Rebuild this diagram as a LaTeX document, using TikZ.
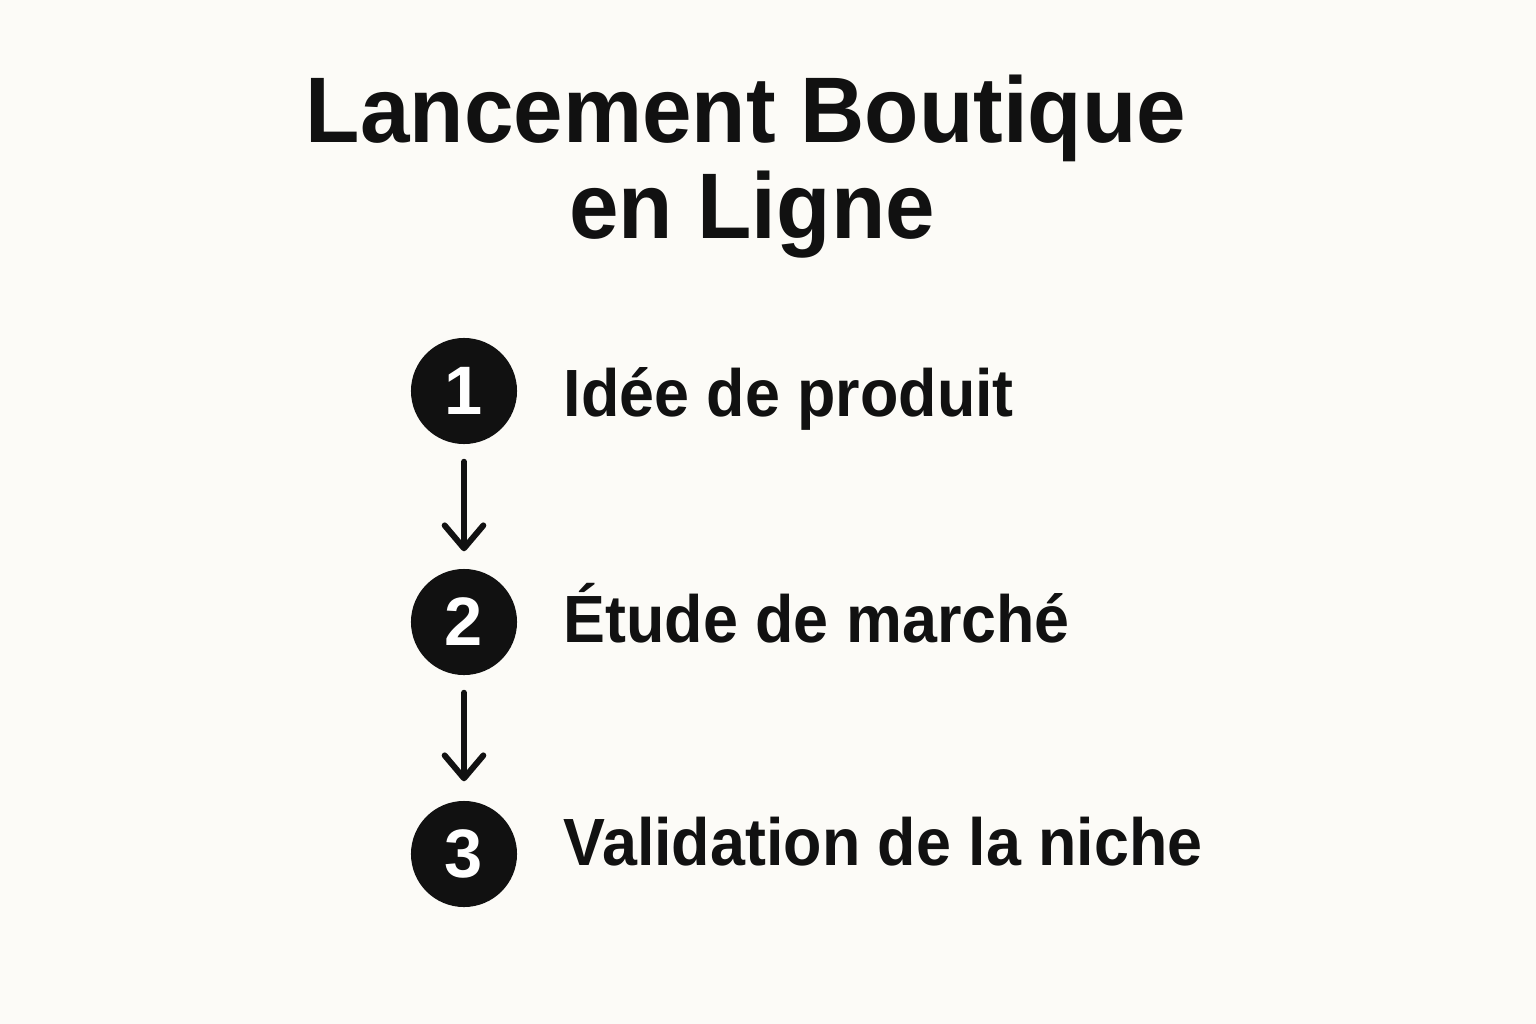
\documentclass[tikz,border=0pt]{standalone}
\usepackage{fontspec}
\setmainfont{Liberation Sans}
\newfontfamily\titlefont[FakeStretch=0.955]{Liberation Sans}
\newfontfamily\labelfont[FakeStretch=0.94]{Liberation Sans}
\usetikzlibrary{arrows.meta}
\definecolor{bgc}{HTML}{FCFBF7}
\definecolor{ink}{HTML}{111111}
\begin{document}
\begin{tikzpicture}[x=0.01cm,y=-0.01cm,
  titletext/.style={anchor=base,inner sep=0pt,text=ink,font=\titlefont\bfseries\fontsize{26.5}{30}\selectfont},
  steplabel/.style={anchor=base west,inner sep=0pt,text=ink,font=\labelfont\bfseries\fontsize{19}{22}\selectfont},
  stepcircle/.style={circle,fill=ink,minimum size=1.06cm,inner sep=0pt,text=white,font=\bfseries\fontsize{19.5}{22}\selectfont},
  flow/.style={draw=ink,line width=1.7pt,line cap=round,-{Straight Barb[round,length=6.5pt,width=11pt]}}
]
\fill[bgc] (0,0) rectangle (1536,1024);
\useasboundingbox (0,0) rectangle (1536,1024);

\node[titletext] (t1) at (746,142) {Lancement Boutique};
\node[titletext] (t2) at (752,238) {en Ligne};

\node[stepcircle] (c1) at (464,391) {1};
\node[stepcircle] (c2) at (464,622) {2};
\node[stepcircle] (c3) at (464,854) {3};

\node[steplabel] (l1) at (563,416) {Idée de produit};
\node[steplabel] (l2) at (563,642) {Étude de marché};
\node[steplabel] (l3) at (563,865) {Validation de la niche};

\draw[flow,shorten <=0.17cm,shorten >=0.17cm] (c1) -- (c2);
\draw[flow,shorten <=0.17cm,shorten >=0.19cm] (c2) -- (c3);
\end{tikzpicture}
\end{document}
